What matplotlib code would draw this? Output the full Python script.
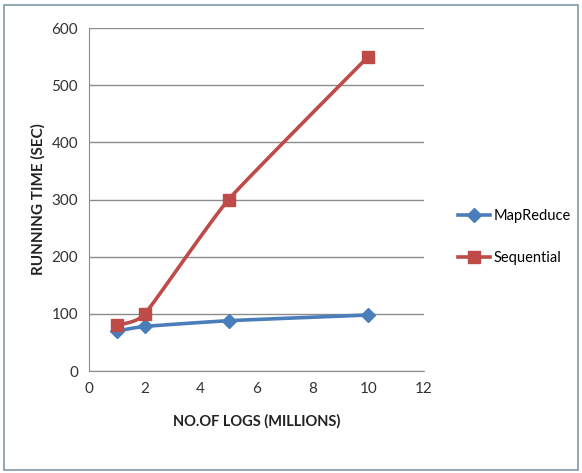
import numpy as np
import matplotlib.pyplot as plt
from matplotlib.patches import Rectangle

logs = [1, 2, 5, 10]
mapreduce = [70, 78, 88, 98]
sequential = [80, 100, 300, 550]
x_ticks = [0, 2, 4, 6, 8, 10, 12]
y_ticks = [0, 100, 200, 300, 400, 500, 600]

plt.rcParams['font.family'] = ['Lato', 'DejaVu Sans']


def smooth(xs, ys, n=30):
    # Catmull-Rom curve through the points, like Excel's smoothed lines
    xs = np.asarray(xs, float)
    ys = np.asarray(ys, float)
    px = np.concatenate([[2 * xs[0] - xs[1]], xs, [2 * xs[-1] - xs[-2]]])
    py = np.concatenate([[2 * ys[0] - ys[1]], ys, [2 * ys[-1] - ys[-2]]])
    out_x, out_y = [], []
    t = np.linspace(0, 1, n)
    for i in range(1, len(px) - 2):
        for p, out in ((px, out_x), (py, out_y)):
            p0, p1, p2, p3 = p[i - 1], p[i], p[i + 1], p[i + 2]
            m1 = (p2 - p0) / 2 * 0.45
            m2 = (p3 - p1) / 2 * 0.45
            h00 = 2 * t**3 - 3 * t**2 + 1
            h10 = t**3 - 2 * t**2 + t
            h01 = -2 * t**3 + 3 * t**2
            h11 = t**3 - t**2
            out.extend(h00 * p1 + h10 * m1 + h01 * p2 + h11 * m2)
    return out_x, out_y


fig = plt.figure(figsize=(5.82, 4.73), dpi=100)
fig.patches.append(Rectangle((0.007, 0.006), 0.986, 0.984, transform=fig.transFigure,
                             fill=False, edgecolor='#7f97a8', linewidth=1.2))
ax = fig.add_axes([0.153, 0.2156, 0.5755, 0.7252])

blue = '#4a7ebb'
red = '#be4b48'

sx, sy = smooth(logs, mapreduce)
ax.plot(sx, sy, color=blue, linewidth=2.6, zorder=3)
ax.plot(logs, mapreduce, linestyle='none', marker='D', markersize=7,
        color=blue, zorder=4)
sx, sy = smooth(logs, sequential)
ax.plot(sx, sy, color=red, linewidth=2.6, zorder=3)
ax.plot(logs, sequential, linestyle='none', marker='s', markersize=8,
        color=red, zorder=4)

ax.set_xlim(0, 12)
ax.set_ylim(0, 600)
ax.set_xticks(x_ticks)
ax.set_yticks(y_ticks)
ax.grid(axis='y', color='#8c8c8c', linewidth=1)
ax.set_axisbelow(True)
for side in ('top', 'right'):
    ax.spines[side].set_visible(False)
for side in ('left', 'bottom'):
    ax.spines[side].set_color('#8c8c8c')
ax.tick_params(length=0, pad=8, labelsize=11, labelcolor='#333333')

ax.set_xlabel('NO.OF LOGS (MILLIONS)', fontsize=10.5, fontweight='bold',
              color='#222222', labelpad=13)
ax.set_ylabel('RUNNING TIME (SEC)', fontsize=11, fontweight='bold',
              color='#222222', labelpad=4)

h1, = ax.plot([], [], color=blue, linewidth=2.6, marker='D', markersize=7)
h2, = ax.plot([], [], color=red, linewidth=2.6, marker='s', markersize=8)
fig.legend([h1, h2], ['MapReduce', 'Sequential'], loc='center left',
           bbox_to_anchor=(0.765, 0.499), frameon=False, fontsize=10.5,
           handlelength=2.2, handletextpad=0.2, labelspacing=1.9)

fig.savefig('out.png', dpi=100)
